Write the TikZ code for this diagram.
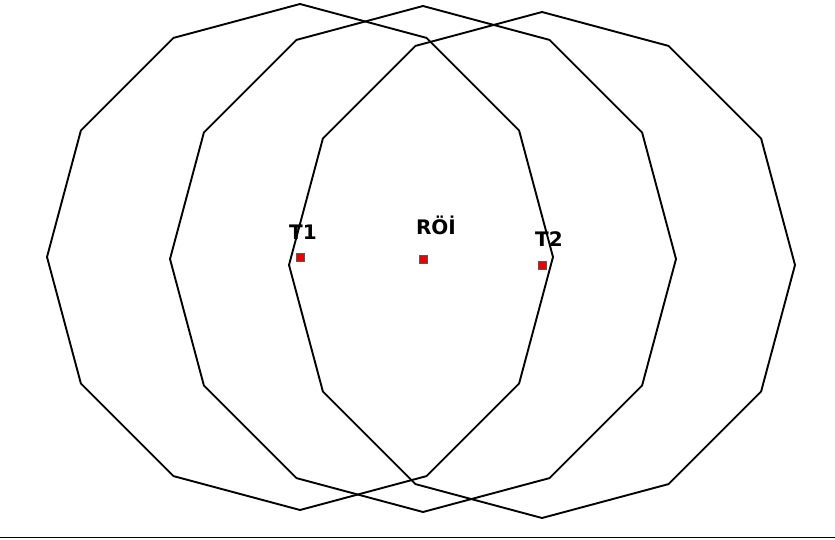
\documentclass[tikz,border=0pt]{standalone}
\usepackage{fontspec}
\usepackage{xcolor}
\usepackage{tikz}
\usetikzlibrary{positioning,shapes.geometric}
\newfontfamily\sitefont{DejaVu Sans}
\definecolor{sitered}{RGB}{235,0,0}
\tikzset{
  zone/.style={regular polygon, regular polygon sides=12, shape border rotate=15,
               draw=black, line width=1.9pt, minimum size=506pt, inner sep=0pt},
  site/.style={rectangle, fill=sitered, draw=black!65, line width=0.5pt,
               minimum size=7.5pt, inner sep=0pt},
  lbl/.style={font=\sitefont\bfseries\fontsize{20}{20}\selectfont, inner sep=0pt},
  groundline/.style={line width=1.9pt, black},
}

\begin{document}
\begin{tikzpicture}[x=1pt, y=1pt]
  \useasboundingbox (0,0) rectangle (835,539);
  \node[site] (t1) at (300,282) {};
  \node[site] (roi) at (423,280) {};
  \node[site] (t2) at (542,274) {};
  \node[zone] (t1zone) at (t1) {};
  \node[zone] (roizone) at (roi) {};
  \node[zone] (t2zone) at (t2) {};
  \node[lbl, above=13pt of t1, xshift=3pt] (t1lbl) {T1};
  \node[lbl, above=20pt of roi, xshift=13pt] (roilbl) {RÖİ};
  \node[lbl, above=14pt of t2, xshift=7pt] (t2lbl) {T2};
  \coordinate (groundl) at (0,1.5);
  \coordinate (groundr) at (835,1.5);
  \draw[groundline] (groundl) -- (groundr);
\end{tikzpicture}
\end{document}
